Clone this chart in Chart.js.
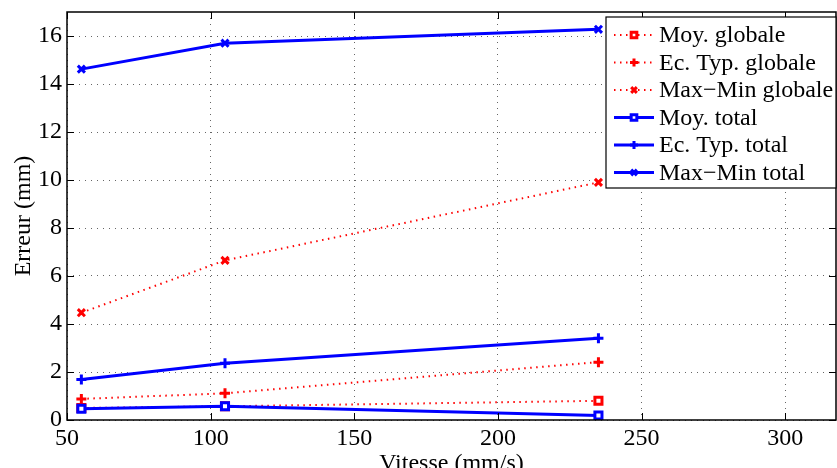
<!DOCTYPE html>
<html>
<head>
<meta charset="utf-8">
<script src="https://cdn.jsdelivr.net/npm/chart.js@4/dist/chart.umd.min.js"></script>
<style>
  html, body { margin: 0; padding: 0; background: #fff; }
  #wrap { width: 837px; height: 468px; }
</style>
</head>
<body>
<div id="wrap"><canvas id="chart" width="837" height="468"></canvas></div>
<script>
// Speeds (mm/s)
const vitesses = [55, 105, 235];

// Errors (mm)
const moyGlobale = [0.50, 0.57, 0.80];
const ecTypGlobale = [0.88, 1.11, 2.41];
const maxMinGlobale = [4.47, 6.65, 9.90];
const moyTotal = [0.47, 0.57, 0.19];
const ecTypTotal = [1.69, 2.36, 3.41];
const maxMinTotal = [14.62, 15.70, 16.28];

const xTicks = [50, 100, 150, 200, 250, 300];
const yTicks = [0, 2, 4, 6, 8, 10, 12, 14, 16];

const serif = "'Liberation Serif', 'DejaVu Serif', serif";
const toPoints = (vals) => vals.map((v, i) => ({ x: vitesses[i], y: v }));

const red = "rgb(255,0,0)";
const blue = "rgb(0,0,255)";

const redStyle = { borderColor: red, backgroundColor: "#fff", borderWidth: 2, borderDash: [1.5, 4.5], pointBorderColor: red, pointBorderWidth: 3, order: 1 };
const blueStyle = { borderColor: blue, backgroundColor: "#fff", borderWidth: 3, pointBorderColor: blue, pointBorderWidth: 3, order: 0 };

const datasets = [
  { label: "Moy. globale", data: toPoints(moyGlobale), pointStyle: "rect", pointRadius: 5, ...redStyle },
  { label: "Ec. Typ. globale", data: toPoints(ecTypGlobale), pointStyle: "cross", pointRadius: 5, ...redStyle },
  { label: "Max\u2212Min globale", data: toPoints(maxMinGlobale), pointStyle: "crossRot", pointRadius: 5, ...redStyle },
  { label: "Moy. total", data: toPoints(moyTotal), pointStyle: "rect", pointRadius: 5, ...blueStyle },
  { label: "Ec. Typ. total", data: toPoints(ecTypTotal), pointStyle: "cross", pointRadius: 5, ...blueStyle },
  { label: "Max\u2212Min total", data: toPoints(maxMinTotal), pointStyle: "crossRot", pointRadius: 5, ...blueStyle }
];

// Box, inward ticks and MATLAB-style legend
const matlabFrame = {
  id: "matlabFrame",
  afterDraw(chart) {
    const ctx = chart.ctx;
    const a = chart.chartArea;
    const xs = chart.scales.x, ys = chart.scales.y;
    ctx.save();
    ctx.strokeStyle = "#000";
    ctx.lineWidth = 1.5;
    ctx.strokeRect(a.left, a.top, a.right - a.left, a.bottom - a.top);
    ctx.lineWidth = 1;
    ctx.beginPath();
    xTicks.forEach(t => {
      const px = Math.round(xs.getPixelForValue(t)) + 0.5;
      ctx.moveTo(px, a.bottom); ctx.lineTo(px, a.bottom - 7);
      ctx.moveTo(px, a.top); ctx.lineTo(px, a.top + 7);
    });
    yTicks.forEach(t => {
      const py = Math.round(ys.getPixelForValue(t)) + 0.5;
      ctx.moveTo(a.left, py); ctx.lineTo(a.left + 7, py);
      ctx.moveTo(a.right, py); ctx.lineTo(a.right - 7, py);
    });
    ctx.stroke();

    // legend
    const bx = 606, by = 17, bw = 230, bh = 171;
    ctx.fillStyle = "#fff";
    ctx.fillRect(bx, by, bw, bh);
    ctx.strokeStyle = "#000";
    ctx.lineWidth = 1.2;
    ctx.strokeRect(bx, by, bw, bh);
    ctx.font = "24px " + serif;
    ctx.textBaseline = "middle";
    chart.data.datasets.forEach((ds, i) => {
      const y = 35 + i * 27.5;
      ctx.strokeStyle = ds.borderColor;
      ctx.lineWidth = ds.borderWidth;
      ctx.setLineDash(ds.borderDash || []);
      ctx.beginPath();
      ctx.moveTo(614, y); ctx.lineTo(654, y);
      ctx.stroke();
      ctx.setLineDash([]);
      ctx.lineWidth = ds.pointBorderWidth;
      ctx.fillStyle = "#fff";
      Chart.helpers.drawPoint(ctx, { pointStyle: ds.pointStyle, radius: ds.pointRadius - 1, borderWidth: ds.pointBorderWidth, rotation: 0 }, 634, y);
      ctx.fillStyle = "#000";
      ctx.fillText(ds.label, 659, y + 1);
    });
    ctx.restore();
  }
};

new Chart(document.getElementById("chart"), {
  type: "line",
  data: { datasets },
  options: {
    responsive: false,
    animation: false,
    layout: { autoPadding: false, padding: { top: 12, right: 1, left: 0, bottom: 0 } },
    plugins: { legend: { display: false }, tooltip: { enabled: false } },
    scales: {
      x: {
        type: "linear",
        min: 50,
        max: 317.7,
        afterBuildTicks: (s) => { s.ticks = xTicks.map(v => ({ value: v })); },
        afterFit: (s) => { s.height = 48; s.paddingLeft = 0; s.paddingRight = 0; },
        grid: { color: "rgba(0,0,0,0.6)", lineWidth: 1, drawTicks: false },
        border: { display: false, dash: [1, 5] },
        ticks: { color: "#000", font: { family: serif, size: 24 }, padding: 4, maxRotation: 0 },
        title: { display: true, text: "Vitesse (mm/s)", color: "#000", font: { family: serif, size: 24 }, padding: { top: 0, bottom: -10 } }
      },
      y: {
        min: 0,
        max: 17,
        afterBuildTicks: (s) => { s.ticks = yTicks.map(v => ({ value: v })); },
        afterFit: (s) => { s.width = 67; s.paddingTop = 0; s.paddingBottom = 0; },
        grid: { color: "rgba(0,0,0,0.6)", lineWidth: 1, drawTicks: false },
        border: { display: false, dash: [1, 5] },
        ticks: { color: "#000", font: { family: serif, size: 24 }, padding: 5 },
        title: { display: true, text: "Erreur (mm)", color: "#000", font: { family: serif, size: 24 }, padding: { top: 9, bottom: 0 } }
      }
    }
  },
  plugins: [matlabFrame]
});
</script>
</body>
</html>
